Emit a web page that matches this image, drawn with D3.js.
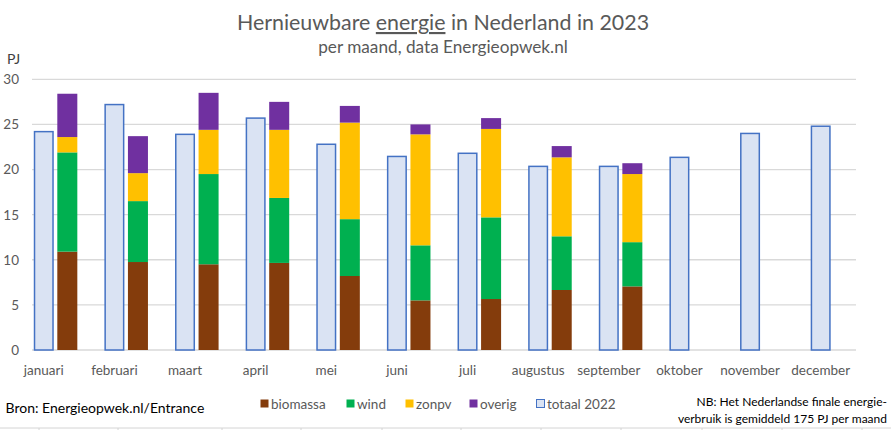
<!DOCTYPE html>
<html><head><meta charset="utf-8">
<script src="https://cdn.jsdelivr.net/npm/d3@7/dist/d3.min.js"></script>
<style>body{margin:0;background:#fff}svg{display:block;font-family:Lato,"Open Sans",sans-serif}</style>
</head><body><svg id="c" width="891" height="430"></svg>
<script>
const months = ["januari","februari","maart","april","mei","juni","juli","augustus","september","oktober","november","december"];
const totaal2022 = [24.2,27.2,23.9,25.7,22.8,21.45,21.8,20.35,20.35,21.35,24.0,24.8];
const biomassa = [10.9,9.75,9.5,9.65,8.2,5.5,5.65,6.65,7.05];
const wind     = [11.0,6.75,10.0,7.2,6.3,6.1,9.05,5.95,4.9];
const zonpv    = [1.7,3.1,4.9,7.55,10.7,12.3,9.8,8.75,7.55];
const overig   = [4.8,4.1,4.1,3.1,1.85,1.1,1.2,1.25,1.2];
const yTicks = [0,5,10,15,20,25,30];
const seriesNames = ["biomassa","wind","zonpv","overig"];
const colors = {biomassa:"#843C0C",wind:"#00B050",zonpv:"#FFC000",overig:"#7030A0"};
const cellCols = [39,118,222,301,382,461,541,621,702,782,862];

const svg = d3.select("#c");
const L = 32, R = 856, T = 79.3, B = 350;
const step = (R - L) / 35 * 3;
const x = d3.scaleBand().domain(months).range([L, L + step*12]).padding(0);
const xs = d3.scaleBand().domain(["2022","2023","blank"]).range([0, step]).paddingInner(0.15).paddingOuter(0.075);
const y = d3.scaleLinear().domain([0,30]).range([B, T]);

// spreadsheet cell lines at bottom
svg.append("line").attr("x1",0).attr("x2",891).attr("y1",428).attr("y2",428).attr("stroke","#D4D4D4").attr("stroke-width",1);
svg.append("g").selectAll("line").data(cellCols).join("line")
  .attr("x1",d=>d).attr("x2",d=>d).attr("y1",428).attr("y2",430).attr("stroke","#D4D4D4");

// gridlines
svg.append("g").selectAll("line").data(yTicks).join("line")
  .attr("x1", L).attr("x2", R).attr("y1", d=>y(d)).attr("y2", d=>y(d))
  .attr("stroke", "#D9D9D9").attr("stroke-width", 1.3);

// y axis labels
svg.append("g").selectAll("text").data(yTicks).join("text")
  .attr("x", 19).attr("y", d=>y(d)).attr("dy","0.36em").attr("text-anchor","end")
  .attr("font-size", 13.5).attr("fill","#595959").text(d=>d);

// 2022 bars
svg.append("g").selectAll("rect").data(months).join("rect")
  .attr("x", (m)=>x(m)+xs("2022")+0.75)
  .attr("width", xs.bandwidth()-1.5)
  .attr("y", (m,i)=>y(totaal2022[i]))
  .attr("height", (m,i)=>B - y(totaal2022[i]))
  .attr("fill","#DAE3F3").attr("stroke","#4472C4").attr("stroke-width",1.5);

// 2023 stacked
const rows = biomassa.map((b,i)=>({month:months[i], biomassa:b, wind:wind[i], zonpv:zonpv[i], overig:overig[i]}));
const stack = d3.stack().keys(seriesNames)(rows);
svg.append("g").selectAll("g").data(stack).join("g").attr("fill", d=>colors[d.key])
  .selectAll("rect").data(d=>d).join("rect")
  .attr("x", d=>x(d.data.month)+xs("2023"))
  .attr("width", xs.bandwidth())
  .attr("y", d=>y(d[1]))
  .attr("height", d=>y(d[0]) - y(d[1]));

// x labels
svg.append("g").selectAll("text").data(months).join("text")
  .attr("x", m=>x(m)+xs("2022")+xs.bandwidth()/2).attr("y", 370).attr("dy","0.36em")
  .attr("text-anchor","middle").attr("font-size",13.5).attr("fill","#595959").text(m=>m);

// title
const title = svg.append("text").attr("x", 443).attr("y", 30)
  .attr("text-anchor","middle").attr("font-size",21.4).attr("fill","#595959");
title.append("tspan").text("Hernieuwbare ");
title.append("tspan").attr("text-decoration","underline").text("energie");
title.append("tspan").text(" in Nederland in 2023");
svg.append("text").attr("x", 443).attr("y", 53)
  .attr("text-anchor","middle").attr("font-size",17.2).attr("fill","#595959").text("per maand, data Energieopwek.nl");
svg.append("text").attr("x", 7).attr("y", 59).attr("dy","0.36em")
  .attr("font-size",14).attr("fill","#404040").text("PJ");

// legend
const legendItems = [
  {name:"biomassa", fill:colors.biomassa, stroke:"none", x:260},
  {name:"wind", fill:colors.wind, stroke:"none", x:346},
  {name:"zonpv", fill:colors.zonpv, stroke:"none", x:405},
  {name:"overig", fill:colors.overig, stroke:"none", x:469},
  {name:"totaal 2022", fill:"#DAE3F3", stroke:"#4472C4", x:536}
];
const lg = svg.append("g").selectAll("g").data(legendItems).join("g")
  .attr("transform", d=>`translate(${d.x},404)`);
lg.append("rect").attr("x",0.5).attr("y",-4.5).attr("width",8).attr("height",8)
  .attr("fill", d=>d.fill).attr("stroke", d=>d.stroke).attr("stroke-width",1);
lg.append("text").attr("x",11).attr("y",0).attr("dy","0.36em")
  .attr("font-size",13.5).attr("fill","#595959").text(d=>d.name);

svg.append("text").attr("x", 5.5).attr("y", 412.5)
  .attr("font-size",14).attr("fill","#000").text("Bron: Energieopwek.nl/Entrance");
svg.append("text").attr("x", 887).attr("y", 406).attr("text-anchor","end")
  .attr("font-size",12).attr("fill","#000").text("NB: Het Nederlandse finale energie-");
svg.append("text").attr("x", 887).attr("y", 423).attr("text-anchor","end")
  .attr("font-size",12).attr("fill","#000").text("verbruik is gemiddeld 175 PJ per maand");
</script></body></html>
